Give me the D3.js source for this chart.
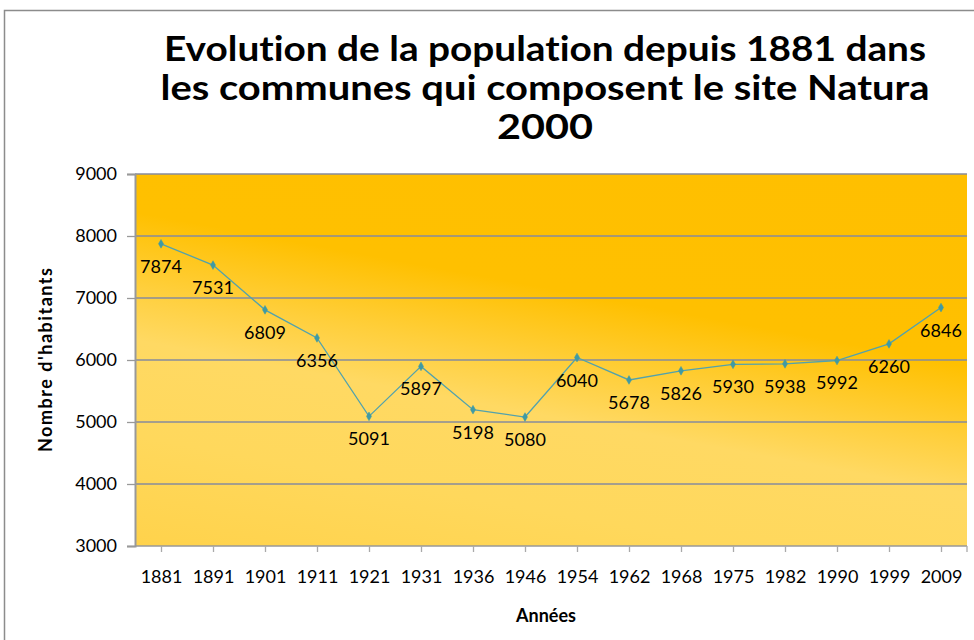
<!DOCTYPE html>
<html>
<head>
<meta charset="utf-8">
<script src="https://cdn.jsdelivr.net/npm/d3@7"></script>
<style>
  html, body { margin: 0; padding: 0; background: #fff; }
  svg { display: block; }
  text { font-family: Lato, "Open Sans", sans-serif; fill: #000; font-variant-ligatures: none; }
</style>
</head>
<body>
<svg id="chart" width="974" height="640"></svg>
<script>
// Population totals per census year
const years = ["1881","1891","1901","1911","1921","1931","1936","1946","1954","1962","1968","1975","1982","1990","1999","2009"];
const population = [7874, 7531, 6809, 6356, 5091, 5897, 5198, 5080, 6040, 5678, 5826, 5930, 5938, 5992, 6260, 6846];
const yTicks = [3000, 4000, 5000, 6000, 7000, 8000, 9000];
const titleLines = ["Evolution de la population depuis 1881 dans", "les communes qui composent le site Natura", "2000"];

const svg = d3.select("#chart");
const plot = { left: 135, right: 967, top: 174, bottom: 546 };
const W = plot.right - plot.left, H = plot.bottom - plot.top;

// frame around the chart
svg.append("rect")
  .attr("x", 4.5).attr("y", 10.5).attr("width", 1000).attr("height", 700)
  .attr("fill", "none").attr("stroke", "#8c8c8c").attr("stroke-width", 1.5);

// title
const titleY = [61, 100, 139];
const titleW = [762, 769, 96];
svg.append("g").selectAll("text").data(titleLines).join("text")
  .attr("x", 545).attr("y", (d, i) => titleY[i])
  .attr("text-anchor", "middle")
  .attr("font-size", 35).attr("font-weight", 700)
  .attr("textLength", (d, i) => titleW[i]).attr("lengthAdjust", "spacingAndGlyphs")
  .text(d => d);

const x = d3.scalePoint().domain(years).range([plot.left, plot.right]).padding(0.5);
const y = d3.scaleLinear().domain([3000, 9000]).range([plot.bottom, plot.top]);

// plot background gradient
const defs = svg.append("defs");
const grad = defs.append("linearGradient").attr("id", "bg")
  .attr("gradientUnits", "userSpaceOnUse")
  .attr("x1", plot.right).attr("y1", plot.top)
  .attr("x2", plot.right - 95).attr("y2", plot.top + 515);
[[0, "#ffbf00"], [0.36, "#ffc000"], [0.5, "#ffcf3c"], [0.6, "#ffd963"], [0.78, "#ffd85c"], [1, "#ffd24a"]]
  .forEach(([o, c]) => grad.append("stop").attr("offset", o).attr("stop-color", c));
svg.append("rect")
  .attr("x", plot.left).attr("y", plot.top).attr("width", W).attr("height", H)
  .attr("fill", "url(#bg)");

// horizontal gridlines
svg.append("g").selectAll("line").data(yTicks.filter(t => t > 3000)).join("line")
  .attr("x1", plot.left).attr("x2", plot.right)
  .attr("y1", d => y(d)).attr("y2", d => y(d))
  .attr("stroke", "#878b9c").attr("stroke-width", 1.3);

// y axis
const yAxis = svg.append("g").attr("transform", `translate(${plot.left},0)`)
  .call(d3.axisLeft(y).tickValues(yTicks).tickFormat(d3.format("d")).tickSize(8).tickPadding(10));
yAxis.select(".domain").attr("stroke", "#999").attr("stroke-width", 2);
yAxis.selectAll(".tick line").attr("stroke", "#999").attr("stroke-width", 1.3);
yAxis.selectAll(".tick text").attr("font-size", 18).attr("font-family", "Lato, sans-serif").attr("fill", "#000");

// x axis
const xAxis = svg.append("g").attr("transform", `translate(0,${plot.bottom})`)
  .call(d3.axisBottom(x).tickSize(6).tickPadding(18).tickSizeOuter(0));
xAxis.select(".domain").attr("stroke", "#999").attr("stroke-width", 1.5)
  .attr("d", `M${plot.left},0H${plot.right}`);
xAxis.selectAll(".tick line").attr("stroke", "#aaa").attr("stroke-width", 1.3);
xAxis.selectAll(".tick text").attr("font-size", 18).attr("font-family", "Lato, sans-serif").attr("fill", "#000");
xAxis.append("line").attr("x1", plot.right).attr("x2", plot.right).attr("y1", 0).attr("y2", 6)
  .attr("stroke", "#aaa").attr("stroke-width", 1.3);

// axis titles
svg.append("text").attr("x", 546).attr("y", 622).attr("text-anchor", "middle")
  .attr("font-size", 18).attr("font-weight", 700).text("Années");
svg.append("text").attr("transform", "translate(52,360) rotate(-90)").attr("text-anchor", "middle")
  .attr("font-size", 18).attr("font-weight", 700)
  .attr("textLength", 184).attr("lengthAdjust", "spacing")
  .text("Nombre d'habitants");

// population line
const pts = years.map((yr, i) => ({ yr, v: population[i] }));
svg.append("path").datum(pts)
  .attr("fill", "none").attr("stroke", "#52a2ad").attr("stroke-width", 1.3)
  .attr("d", d3.line().x(d => x(d.yr)).y(d => y(d.v)));

// diamond markers
svg.append("g").selectAll("path").data(pts).join("path")
  .attr("transform", d => `translate(${x(d.yr)},${y(d.v)})`)
  .attr("d", d3.symbol(d3.symbolDiamond, 22))
  .attr("fill", "#3f9aa4").attr("stroke", "#3f9aa4").attr("stroke-width", 0.5);

// value labels below each point
svg.append("g").selectAll("text").data(pts).join("text")
  .attr("x", d => x(d.yr)).attr("y", d => y(d.v) + 29)
  .attr("text-anchor", "middle").attr("font-size", 18)
  .text(d => d.v);
</script>
</body>
</html>
